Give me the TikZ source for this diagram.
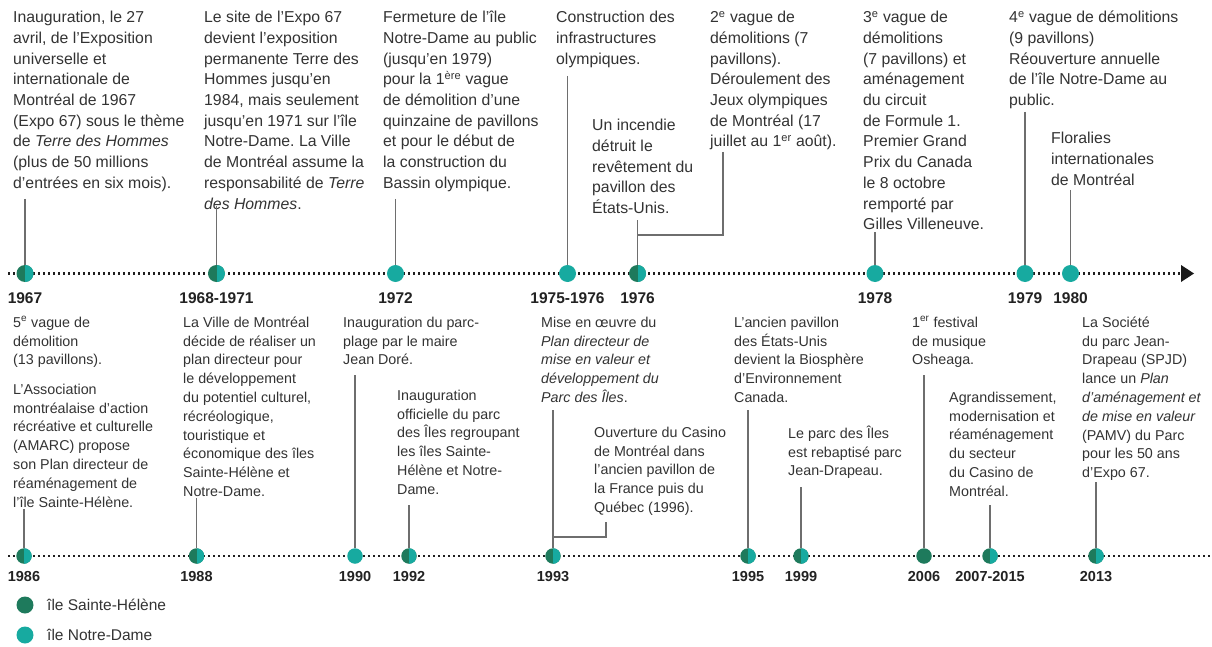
\documentclass[tikz,border=0pt]{standalone}
\usepackage{fontspec}
\setmainfont{Liberation Sans}
\frenchspacing
\definecolor{dk}{HTML}{1E7A5C}
\definecolor{tl}{HTML}{17AAA0}
\definecolor{txt}{HTML}{333333}
\definecolor{yrc}{HTML}{222222}
\definecolor{ln}{HTML}{6E6E6E}
\newcommand{\ftop}{\rule{0pt}{15pt}}
\newcommand{\fbot}{\rule{0pt}{14pt}}
\tikzset{
 tx/.style={anchor=north west, align=left, inner sep=0pt, text=txt, font=\fontsize{15.8}{20.7}\selectfont},
 bx/.style={anchor=north west, align=left, inner sep=0pt, text=txt, font=\fontsize{14.3}{18.8}\selectfont},
 yr/.style={anchor=base, inner sep=0pt, text=yrc, font=\bfseries\fontsize{15.5}{18}\selectfont},
 yb/.style={anchor=base, inner sep=0pt, text=yrc, font=\bfseries\fontsize{14.5}{17}\selectfont},
 mk/.style={circle, inner sep=0pt, minimum size=17pt},
 mkb/.style={circle, inner sep=0pt, minimum size=15.5pt},
 sh/.style={fill=dk},
 nd/.style={fill=tl},
 both/.style={fill=dk, path picture={\fill[tl] (path picture bounding box.south) rectangle (path picture bounding box.north east);}},
 conn/.style={draw=ln, line width=1.3pt},
 axisline/.style={draw=black!88, line width=2.2pt, dash pattern=on 2.2pt off 2.8pt},
 lg/.style={anchor=west, inner sep=0pt, text=txt, font=\fontsize{15.5}{18}\selectfont},
}
\begin{document}
\begin{tikzpicture}[x=1pt,y=-1pt]
\useasboundingbox (0,0) rectangle (1212,647);
\fill[white] (0,0) rectangle (1212,647);

% ---------- top axis ----------
\coordinate (ta) at (8,273.5);
\coordinate (tb) at (1180,273.5);
\draw[axisline] (ta) -- (tb);
\coordinate (ar1) at (1181,265);
\coordinate (ar2) at (1194,273.5);
\coordinate (ar3) at (1181,282);
\fill[black!90] (ar1) -- (ar2) -- (ar3) -- cycle;

% ---------- bottom axis ----------
\coordinate (ba) at (8,556);
\coordinate (bb) at (1210,556);
\draw[axisline] (ba) -- (bb);

% ---------- top texts ----------
\node[tx] (t1) at (13,7.5) {\ftop Inauguration, le 27\\avril, de l’Exposition\\universelle et\\internationale de\\Montréal de 1967\\(Expo 67) sous le thème\\de \textit{Terre des Hommes}\\(plus de 50 millions\\d’entrées en six mois).};
\node[tx] (t2) at (204,7.5) {\ftop Le site de l’Expo 67\\devient l’exposition\\permanente Terre des\\Hommes jusqu’en\\1984, mais seulement\\jusqu’en 1971 sur l’île\\Notre-Dame. La Ville\\de Montréal assume la\\responsabilité de \textit{Terre}\\\textit{des Hommes}.};
\node[tx] (t3) at (383,7.5) {\ftop Fermeture de l’île\\Notre-Dame au public\\(jusqu’en 1979)\\pour la 1\textsuperscript{ère} vague\\de démolition d’une\\quinzaine de pavillons\\et pour le début de\\la construction du\\Bassin olympique.};
\node[tx] (t4) at (556,7.5) {\ftop Construction des\\infrastructures\\olympiques.};
\node[tx] (t5) at (592,115.5) {\ftop Un incendie\\détruit le\\revêtement du\\pavillon des\\États-Unis.};
\node[tx] (t6) at (710,7.5) {\ftop 2\textsuperscript{e} vague de\\démolitions (7\\pavillons).\\Déroulement des\\Jeux olympiques\\de Montréal (17\\juillet au 1\textsuperscript{er} août).};
\node[tx] (t7) at (863,7.5) {\ftop 3\textsuperscript{e} vague de\\démolitions\\(7 pavillons) et\\aménagement\\du circuit\\de Formule 1.\\Premier Grand\\Prix du Canada\\le 8 octobre\\remporté par\\Gilles Villeneuve.};
\node[tx] (t8) at (1009,7.5) {\ftop 4\textsuperscript{e} vague de démolitions\\(9 pavillons)\\Réouverture annuelle\\de l’île Notre-Dame au\\public.};
\node[tx] (t9) at (1051,128.5) {\ftop Floralies\\internationales\\de Montréal};

% ---------- top markers ----------
\coordinate (c1) at (25,199);
\coordinate (c2) at (216.5,206);
\coordinate (c3) at (395.5,199);
\coordinate (c4) at (567.5,76);
\coordinate (c5) at (637.5,220);
\coordinate (c6) at (723,152);
\coordinate (j6) at (637.5,235);
\coordinate (c7) at (875,232);
\coordinate (c8) at (1025,112);
\coordinate (c9) at (1070.5,190);

\node[mk,both] (m1) at (25,273.5) {};
\node[mk,both] (m2) at (216.5,273.5) {};
\node[mk,nd] (m3) at (395.5,273.5) {};
\node[mk,nd] (m4) at (567.5,273.5) {};
\node[mk,both] (m5) at (637.5,273.5) {};
\node[mk,nd] (m7) at (875,273.5) {};
\node[mk,nd] (m8) at (1025,273.5) {};
\node[mk,nd] (m9) at (1070.5,273.5) {};

\draw[conn] (c1) -- (m1);
\draw[conn] (c2) -- (m2);
\draw[conn] (c3) -- (m3);
\draw[conn] (c4) -- (m4);
\draw[conn] (c5) -- (m5);
\draw[conn] (c6) |- (j6);
\draw[conn] (c7) -- (m7);
\draw[conn] (c8) -- (m8);
\draw[conn] (c9) -- (m9);

\node[yr] (y1) at (25,303) {1967};
\node[yr] (y2) at (216.5,303) {1968-1971};
\node[yr] (y3) at (395.5,303) {1972};
\node[yr] (y4) at (567.5,303) {1975-1976};
\node[yr] (y5) at (637.5,303) {1976};
\node[yr] (y7) at (875,303) {1978};
\node[yr] (y8) at (1025,303) {1979};
\node[yr] (y9) at (1070.5,303) {1980};

% ---------- bottom texts ----------
\node[bx] (s1) at (13,313) {\fbot 5\textsuperscript{e} vague de\\démolition\\(13 pavillons).\\[10.6pt]L’Association\\montréalaise d’action\\récréative et culturelle\\(AMARC) propose\\son Plan directeur de\\réaménagement de\\l’île Sainte-Hélène.};
\node[bx] (s2) at (183,313) {\fbot La Ville de Montréal\\décide de réaliser un\\plan directeur pour\\le développement\\du potentiel culturel,\\récréologique,\\touristique et\\économique des îles\\Sainte-Hélène et\\Notre-Dame.};
\node[bx] (s3) at (343,313) {\fbot Inauguration du parc-\\plage par le maire\\Jean Doré.};
\node[bx] (s4) at (397,386) {\fbot Inauguration\\officielle du parc\\des Îles regroupant\\les îles Sainte-\\Hélène et Notre-\\Dame.};
\node[bx] (s5) at (541,313) {\fbot Mise en œuvre du\\\textit{Plan directeur de}\\\textit{mise en valeur et}\\\textit{développement du}\\\textit{Parc des Îles}.};
\node[bx] (s6) at (594,423) {\fbot Ouverture du Casino\\de Montréal dans\\l’ancien pavillon de\\la France puis du\\Québec (1996).};
\node[bx] (s7) at (734,313) {\fbot L’ancien pavillon\\des États-Unis\\devient la Biosphère\\d’Environnement\\Canada.};
\node[bx] (s8) at (788,424) {\fbot Le parc des Îles\\est rebaptisé parc\\Jean-Drapeau.};
\node[bx] (s9) at (912,313) {\fbot 1\textsuperscript{er} festival\\de musique\\Osheaga.};
\node[bx] (s10) at (949,388) {\fbot Agrandissement,\\modernisation et\\réaménagement\\du secteur\\du Casino de\\Montréal.};
\node[bx] (s11) at (1082,313) {\fbot La Société\\du parc Jean-\\Drapeau (SPJD)\\lance un \textit{Plan}\\\textit{d’aménagement et}\\\textit{de mise en valeur}\\(PAMV) du Parc\\pour les 50 ans\\d’Expo 67.};

% ---------- bottom markers ----------
\coordinate (d1) at (24,509);
\coordinate (d2) at (196.5,498);
\coordinate (d3) at (355,375);
\coordinate (d4) at (409,505);
\coordinate (d5) at (553,410);
\coordinate (d6) at (606,522);
\coordinate (j5) at (553,537);
\coordinate (d7) at (748,410);
\coordinate (d8) at (801,487);
\coordinate (d9) at (924,375);
\coordinate (d10) at (990,505);
\coordinate (d11) at (1096,482);

\node[mkb,both] (b1) at (24,556) {};
\node[mkb,both] (b2) at (196.5,556) {};
\node[mkb,nd] (b3) at (355,556) {};
\node[mkb,both] (b4) at (409,556) {};
\node[mkb,both] (b5) at (553,556) {};
\node[mkb,both] (b6) at (748,556) {};
\node[mkb,both] (b7) at (801,556) {};
\node[mkb,sh] (b8) at (924,556) {};
\node[mkb,both] (b9) at (990,556) {};
\node[mkb,both] (b10) at (1096,556) {};

\draw[conn] (d1) -- (b1);
\draw[conn] (d2) -- (b2);
\draw[conn] (d3) -- (b3);
\draw[conn] (d4) -- (b4);
\draw[conn] (d5) -- (b5);
\draw[conn] (d6) |- (j5);
\draw[conn] (d7) -- (b6);
\draw[conn] (d8) -- (b7);
\draw[conn] (d9) -- (b8);
\draw[conn] (d10) -- (b9);
\draw[conn] (d11) -- (b10);

\node[yb] (z1) at (24,581) {1986};
\node[yb] (z2) at (196.5,581) {1988};
\node[yb] (z3) at (355,581) {1990};
\node[yb] (z4) at (409,581) {1992};
\node[yb] (z5) at (553,581) {1993};
\node[yb] (z6) at (748,581) {1995};
\node[yb] (z7) at (801,581) {1999};
\node[yb] (z8) at (924,581) {2006};
\node[yb] (z9) at (990,581) {2007-2015};
\node[yb] (z10) at (1096,581) {2013};

% ---------- legend ----------
\node[mk,sh] (l1) at (25,605) {};
\node[mk,nd] (l2) at (25,635) {};
\node[lg] (lt1) at (47,605) {île Sainte-Hélène};
\node[lg] (lt2) at (47,635) {île Notre-Dame};
\end{tikzpicture}
\end{document}
